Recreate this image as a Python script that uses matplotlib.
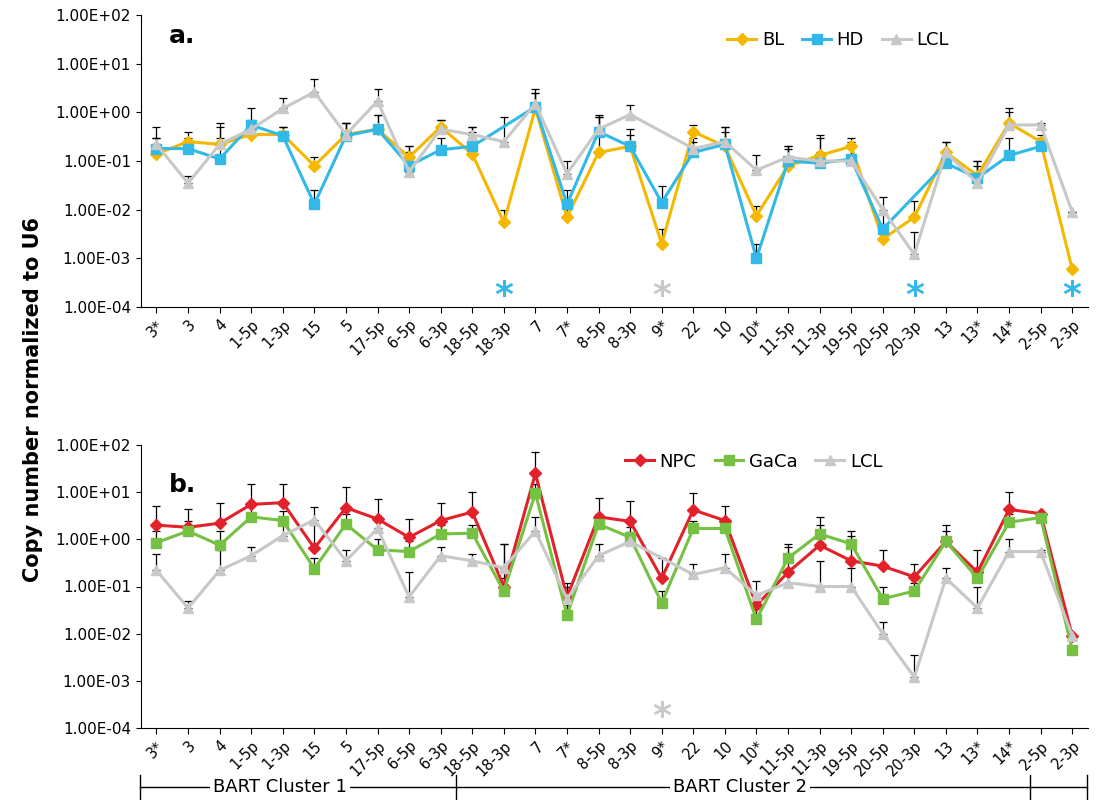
import numpy as np
import matplotlib
matplotlib.use("Agg")
import matplotlib.pyplot as plt
from matplotlib.lines import Line2D

nan = np.nan
cats = ["3*","3","4","1-5p","1-3p","15","5","17-5p","6-5p","6-3p","18-5p","18-3p","7","7*","8-5p","8-3p","9*","22","10","10*","11-5p","11-3p","19-5p","20-5p","20-3p","13","13*","14*","2-5p","2-3p"]

BL = [0.14,0.25,0.22,0.35,0.35,0.08,0.35,0.45,0.12,0.5,0.14,0.0055,1.2,0.007,0.15,0.2,0.002,0.4,0.2,0.0075,0.08,0.13,0.2,0.0025,0.007,0.15,0.05,0.6,0.25,0.0006]
BL_top = [0.3,0.4,0.5,0.5,0.5,0.12,0.6,0.9,0.2,0.7,0.5,0.01,2.5,0.012,0.8,0.45,0.004,0.55,0.4,0.012,0.18,0.3,0.3,0.005,0.015,0.25,0.1,1.2,0.35,0.0006]
HD = [0.18,0.18,0.11,0.55,0.33,0.013,0.33,0.45,0.08,0.17,0.2,nan,1.3,0.013,0.4,0.2,0.014,0.15,0.22,0.001,0.1,0.09,0.11,0.004,nan,0.09,0.045,0.13,0.2,nan]
HD_top = [0.3,0.3,0.3,1.2,0.5,0.025,0.6,0.9,0.15,0.3,0.4,nan,2.5,0.025,0.9,0.35,0.03,0.25,0.5,0.002,0.2,0.15,0.2,0.008,nan,0.15,0.08,0.3,0.3,nan]
LCL = [0.22,0.035,0.22,0.45,1.2,2.6,0.35,1.7,0.06,0.45,0.35,0.25,1.5,0.055,0.45,0.9,nan,0.18,0.25,0.065,0.12,0.1,0.1,0.01,0.0012,0.15,0.035,0.55,0.55,0.009]
LCL_top = [0.5,0.05,0.6,0.7,2.0,4.8,0.6,3.0,0.2,0.7,0.5,0.8,3.0,0.1,0.8,1.4,nan,0.3,0.5,0.13,0.2,0.35,0.25,0.018,0.0035,0.25,0.1,1.0,0.6,0.009]
NPC = [2.0,1.8,2.2,5.5,6.0,0.65,4.7,2.7,1.1,2.5,3.8,0.1,25,0.06,3.0,2.4,0.15,4.2,2.5,0.04,0.2,0.75,0.35,0.27,0.16,0.9,0.2,4.3,3.5,0.009]
NPC_top = [5,4.5,6,15,15,2,13,7,2.7,6,10,0.8,70,0.12,7.5,6.5,0.4,9.5,5,0.06,0.8,3,1.5,0.6,0.3,2,0.6,10,3.5,0.009]
GaCa = [0.85,1.5,0.75,3.0,2.5,0.24,2.1,0.6,0.55,1.3,1.35,0.08,9.5,0.025,2.1,1.1,0.045,1.7,1.7,0.02,0.4,1.3,0.8,0.055,0.08,0.9,0.15,2.3,2.9,0.0045]
GaCa_top = [1.5,2.5,1.5,5,4,0.4,3.5,1.0,0.9,2,2,0.15,15,0.04,3.5,1.8,0.08,2.5,2.5,0.035,0.7,2,1.2,0.1,0.12,1.5,0.25,3.5,3.5,0.0045]

x = np.arange(len(cats))
ORANGE, BLUE, GRAY, RED, GREEN = "#F5B800", "#33B9E8", "#C8C8C8", "#E2212B", "#76C043"

fig = plt.figure(figsize=(10.99, 8.0), dpi=100)
ax1 = fig.add_axes([0.128, 1 - 307/800, 0.862, (307-15)/800])
ax2 = fig.add_axes([0.128, 1 - 728/800, 0.862, (728-445)/800])

def series(ax, vals, tops, color, marker, label, ms):
    v = np.array(vals, float); t = np.array(tops, float)
    m = ~np.isnan(v)
    ax.plot(x[m], v[m], color=color, marker=marker, ms=ms, lw=2.2, label=label, zorder=3)
    up = np.clip(t - v, 0, None)
    ax.errorbar(x[m], v[m], yerr=[np.zeros(m.sum()), up[m]], fmt="none",
                ecolor="black", elinewidth=0.9, capsize=3, capthick=0.9, zorder=2)

def style(ax):
    ax.set_yscale("log")
    ax.set_ylim(1e-4, 1e2)
    ax.set_xlim(-0.5, len(cats) - 0.5)
    ax.set_yticks([1e-4,1e-3,1e-2,1e-1,1,10,100])
    ax.set_yticklabels(["1.00E-04","1.00E-03","1.00E-02","1.00E-01","1.00E+00","1.00E+01","1.00E+02"], fontsize=11)
    ax.minorticks_off()
    ax.set_xticks(x)
    ax.set_xticklabels(cats, rotation=45, ha="right", rotation_mode="anchor", fontsize=10.5)
    for s in ["top", "right"]:
        ax.spines[s].set_visible(False)
    ax.tick_params(axis="x", length=4, direction="out")

series(ax1, BL, BL_top, ORANGE, "D", "BL", 6)
series(ax1, HD, HD_top, BLUE, "s", "HD", 7)
series(ax1, LCL, LCL_top, GRAY, "^", "LCL", 7)
style(ax1)
ax1.text(0.03, 0.97, "a.", transform=ax1.transAxes, fontsize=18, fontweight="bold", va="top")
ax1.legend(loc="upper right", bbox_to_anchor=(0.87, 1.0), ncol=3, frameon=False, fontsize=13,
           handlelength=1.6, columnspacing=1.0, handletextpad=0.3)
for xi, c in [(11, BLUE), (16, GRAY), (24, BLUE), (29, BLUE)]:
    ax1.text(xi, 1.7e-4, "*", color=c, fontsize=26, ha="center", va="center", fontweight="bold")

series(ax2, NPC, NPC_top, RED, "D", "NPC", 6)
series(ax2, GaCa, GaCa_top, GREEN, "s", "GaCa", 7)
series(ax2, LCL, LCL_top, GRAY, "^", "LCL", 7)
style(ax2)
ax2.text(0.03, 0.9, "b.", transform=ax2.transAxes, fontsize=18, fontweight="bold", va="top")
ax2.legend(loc="upper right", bbox_to_anchor=(0.8, 1.03), ncol=3, frameon=False, fontsize=13,
           handlelength=1.6, columnspacing=1.0, handletextpad=0.3)
ax2.text(16, 1.7e-4, "*", color=GRAY, fontsize=26, ha="center", va="center", fontweight="bold")

fig.text(0.03, 0.5, "Copy number normalized to U6", rotation=90, va="center", ha="center",
         fontsize=15, fontweight="bold")

def fx(px): return px / 1099
def fy(py): return 1 - py / 800
fig.add_artist(Line2D([fx(140), fx(1087)], [fy(787), fy(787)], color="black", lw=1))
for px in [140, 456, 1030, 1087]:
    fig.add_artist(Line2D([fx(px), fx(px)], [fy(775), fy(799)], color="black", lw=1))
for cx, lab in [(280, "BART Cluster 1"), (740, "BART Cluster 2")]:
    fig.text(fx(cx), fy(787), lab, ha="center", va="center", fontsize=13,
             bbox=dict(facecolor="white", edgecolor="none", pad=2))

fig.savefig("out.png", dpi=100)
